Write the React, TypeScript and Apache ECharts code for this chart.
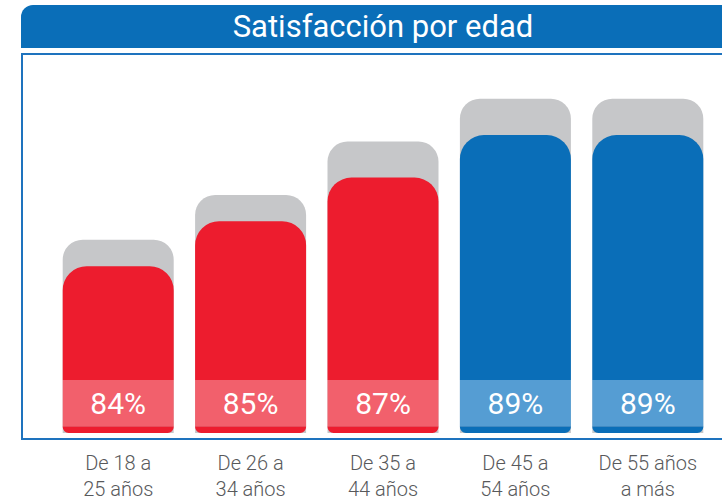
import React, { useEffect, useRef } from "react";
import * as echarts from "echarts";

const categories = ["De 18 a\n25 años", "De 26 a\n34 años", "De 35 a\n44 años", "De 45 a\n54 años", "De 55 años\na más"];
const percentLabels = ["84%", "85%", "87%", "89%", "89%"];
// visual bar heights (chart units, 0-100)
const frontHeights = [44.0, 55.9, 67.4, 78.6, 78.6];
const backHeights = [51.0, 62.8, 76.9, 88.2, 88.2];
const colorGroup = ["red", "red", "red", "blue", "blue"];

const BASE_UNITS = 1.8;
const BAND_UNITS = 12.2;

const DARK: Record<string, string> = { red: "#ED1C2E", blue: "#0A6EB8" };
const LIGHT: Record<string, string> = { red: "#F2606C", blue: "#559DD3" };

export default function App() {
  const ref = useRef<HTMLDivElement>(null);
  useEffect(() => {
    if (!ref.current) return;
    const chart = echarts.init(ref.current, undefined, { renderer: "svg" });
    const barWidth = 111;
    chart.setOption({
      animation: false,
      backgroundColor: "#ffffff",
      grid: { left: 52, right: 8, top: 54, bottom: 64 },
      xAxis: {
        type: "category",
        data: categories,
        axisLine: { show: false },
        axisTick: { show: false },
        axisLabel: {
          margin: 17,
          fontFamily: "Roboto",
          fontWeight: 300,
          fontSize: 20,
          lineHeight: 26,
          color: "#58595B",
          interval: 0,
        },
      },
      yAxis: { type: "value", min: 0, max: 100, show: false, splitLine: { show: false } },
      graphic: [
        {
          type: "rect",
          z: 0,
          shape: { x: 21, y: 5, width: 710, height: 43, r: [12, 0, 0, 0] },
          style: { fill: "#0A6EB8" },
        },
        {
          type: "text",
          z: 1,
          x: 383,
          y: 26,
          style: {
            text: "Satisfacción por edad",
            fill: "#ffffff",
            fontFamily: "Roboto",
            fontWeight: 400,
            fontSize: 31,
            textAlign: "center",
            textVerticalAlign: "middle",
          },
        },
        {
          type: "rect",
          z: 0,
          shape: { x: 22, y: 54, width: 720, height: 385 },
          style: { fill: "none", stroke: "#1E73BE", lineWidth: 2 },
        },
      ],
      series: [
        {
          type: "bar",
          barWidth,
          barGap: "-100%",
          data: backHeights,
          itemStyle: { color: "#C6C7C9", borderRadius: [20, 20, 0, 0] },
          z: 2,
        },
        {
          type: "bar",
          stack: "front",
          barWidth,
          data: frontHeights.map(() => BASE_UNITS),
          itemStyle: {
            color: (p: any) => DARK[colorGroup[p.dataIndex]],
            borderRadius: [0, 0, 6, 6],
          },
          z: 3,
        },
        {
          type: "bar",
          stack: "front",
          barWidth,
          data: frontHeights.map(() => BAND_UNITS),
          itemStyle: { color: (p: any) => LIGHT[colorGroup[p.dataIndex]] },
          label: {
            show: true,
            position: "inside",
            formatter: (p: any) => percentLabels[p.dataIndex],
            color: "#ffffff",
            fontFamily: "Roboto",
            fontWeight: 400,
            fontSize: 30,
          },
          z: 3,
        },
        {
          type: "bar",
          stack: "front",
          barWidth,
          data: frontHeights.map((h) => h - BASE_UNITS - BAND_UNITS),
          itemStyle: {
            color: (p: any) => DARK[colorGroup[p.dataIndex]],
            borderRadius: [24, 24, 0, 0],
          },
          z: 3,
        },
      ],
    });
    return () => chart.dispose();
  }, []);
  return (
    <div
      ref={ref}
      style={{ position: "fixed", left: 0, top: 0, width: 722, height: 502 }}
    />
  );
}
